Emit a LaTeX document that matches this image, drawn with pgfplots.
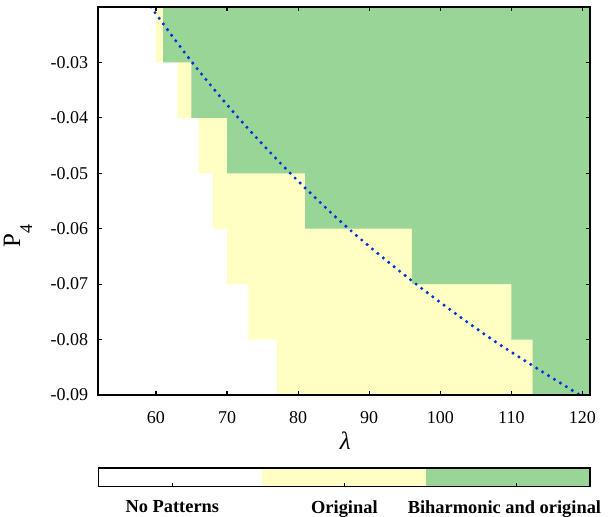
\documentclass[border=0pt]{standalone}
\usepackage{pgfplots}
\pgfplotsset{compat=1.18}
\usepackage{fontspec}
\setmainfont{Liberation Serif}
\definecolor{gr}{RGB}{152,213,150}
\definecolor{ye}{RGB}{255,255,195}
\definecolor{bl}{RGB}{0,50,215}
\begin{document}
\begin{tikzpicture}
\path[use as bounding box] (-49pt,-61pt) rectangle (256.5pt,197.5pt);
\begin{axis}[
  at={(0,0)}, anchor=south west,
  scale only axis, width=245.8pt, height=194pt,
  xmin=51.85, xmax=121, ymin=-0.09, ymax=-0.02,
  axis on top=true,
  axis line style={line width=1pt},
  tick align=inside, major tick length=2pt,
  tick style={line width=0.6pt, black},
  xtick={60,70,80,90,100,110,120},
  xticklabels={60,70,80,90,100,110,120},
  ytick={-0.09,-0.08,-0.07,-0.06,-0.05,-0.04,-0.03},
  yticklabels={-0.09,-0.08,-0.07,-0.06,-0.05,-0.04,-0.03},
  scaled ticks=false,
  ticklabel style={font=\fontsize{9}{10}\selectfont},
  xticklabel style={yshift=-4.5pt},
  yticklabel style={xshift=-1.4pt},
  xlabel={\textit{λ}},
  ylabel={P\raisebox{-6pt}{\fontsize{9}{10}\selectfont 4}},
  every axis x label/.style={at={(rel axis cs:0.503,0)}, anchor=center, yshift=-23pt, font=\fontsize{12.5}{14}\selectfont},
  every axis y label/.style={at={(rel axis cs:0,0.41)}, anchor=center, xshift=-40pt, rotate=90, font=\fontsize{12.5}{14}\selectfont},
  clip=true,
]
\addplot[fill=ye, draw=none] coordinates {
 (60,-0.015) (60,-0.03) (63,-0.03) (63,-0.04) (66,-0.04) (66,-0.05)
 (68,-0.05) (68,-0.06) (70,-0.06) (70,-0.07) (73,-0.07) (73,-0.08)
 (77,-0.08) (77,-0.095) (125,-0.095) (125,-0.015)} -- cycle;
\addplot[fill=gr, draw=none] coordinates {
 (61,-0.015) (61,-0.03) (65,-0.03) (65,-0.04) (70,-0.04) (70,-0.05)
 (81,-0.05) (81,-0.06) (96,-0.06) (96,-0.07) (110,-0.07) (110,-0.08)
 (113,-0.08) (113,-0.095) (125,-0.095) (125,-0.015)} -- cycle;
\addplot[bl, smooth, line width=1.7pt, line cap=round, dash pattern=on 0pt off 3.5pt] coordinates {
 (59.3,-0.02) (65.1,-0.03) (71.6,-0.04) (78.9,-0.05) (87.1,-0.06)
 (96.6,-0.07) (107.3,-0.08) (119.6,-0.09)};
\end{axis}
\begin{axis}[
  at={(0.3pt,-45.85pt)}, anchor=south west,
  scale only axis, width=245.8pt, height=9.2pt,
  xmin=0, xmax=3, ymin=0, ymax=1,
  axis on top=true,
  axis line style={line width=0.8pt},
  tick align=inside, major tick length=2pt,
  tick style={line width=0.6pt, black},
  xtick pos=bottom,
  xtick={0.45,1.5,2.55},
  xticklabels={No Patterns, Original, \hspace*{-12pt}Biharmonic and original},
  xticklabel style={font=\fontsize{9.2}{11}\bfseries, yshift=-3.4pt},
  ytick=\empty,
]
\addplot[fill=white, draw=none] coordinates {(0,0) (1,0) (1,1) (0,1)} -- cycle;
\addplot[fill=ye, draw=none] coordinates {(1,0) (2,0) (2,1) (1,1)} -- cycle;
\addplot[fill=gr, draw=none] coordinates {(2,0) (3,0) (3,1) (2,1)} -- cycle;
\end{axis}
\end{tikzpicture}
\end{document}
